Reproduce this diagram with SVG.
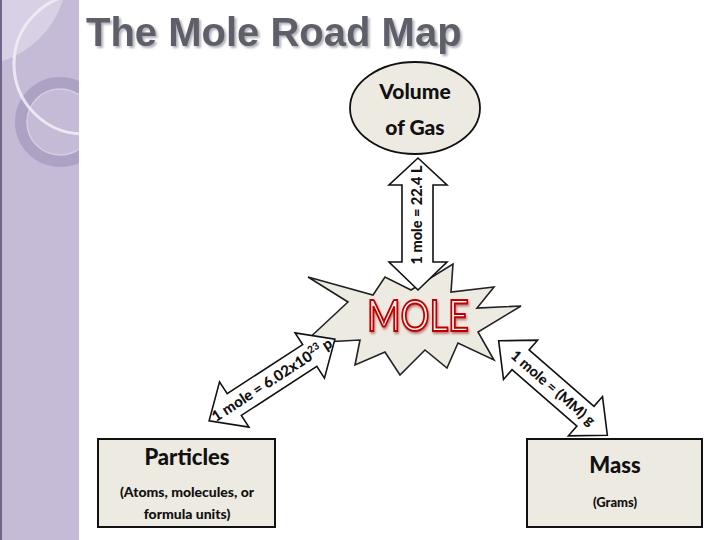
<svg xmlns="http://www.w3.org/2000/svg" width="720" height="540" viewBox="0 0 720 540">
<style>
.box{fill:#edeae1;stroke:#111;stroke-width:2}
.arr{fill:#ffffff;stroke:#111;stroke-width:1.6;stroke-linejoin:miter}
.lbl{font-family:Lato,"Open Sans","DejaVu Sans",sans-serif;font-weight:900;fill:#111;text-anchor:middle}
.title{font-family:"Liberation Sans",Arial,sans-serif;font-weight:bold;font-size:40px}
</style>
<defs>
<clipPath id="band"><rect x="0" y="0" width="79" height="540"/></clipPath>
<filter id="shadow" x="-5%" y="-20%" width="110%" height="150%">
<feDropShadow dx="2" dy="2" stdDeviation="0.8" flood-color="#9c9ca6" flood-opacity="0.8"/>
</filter>
<filter id="glow" x="-10%" y="-20%" width="120%" height="150%">
<feDropShadow dx="1" dy="2" stdDeviation="1.2" flood-color="#7a0000" flood-opacity="0.45"/>
</filter>
</defs>
<rect width="720" height="540" fill="#ffffff"/>
<g id="sidebar" clip-path="url(#band)">
<rect x="0" y="0" width="79" height="540" fill="#c5bbd7"/>
<path d="M0,0 H63 A95,95 0 0 1 0,62 Z" fill="#d8d1e5"/>
<circle cx="60" cy="122" r="39" fill="none" stroke="#ada2c4" stroke-width="12"/>
<circle cx="60" cy="122" r="33" fill="none" stroke="#d4cde2" stroke-width="1.5"/>
<circle cx="84" cy="64" r="70" fill="none" stroke="#f2eff7" stroke-width="3" opacity="0.85"/>
<rect x="0" y="0" width="2" height="540" fill="#6f6689"/>
</g>
<g id="title">
<text class="title" x="86" y="46" fill="#5f5f6b" filter="url(#shadow)">The Mole Road Map</text>
</g>
<g id="volume">
<ellipse cx="415" cy="108" rx="65" ry="46" fill="#edeae1" stroke="#111" stroke-width="1.8"/>
<text class="lbl" x="415" y="99" font-size="21">Volume</text>
<text class="lbl" x="415" y="135" font-size="21">of Gas</text>
</g>
<g id="mole">
<polygon points="308,277 373,295 385,277 411,290 453,264 451,292 494,287 477,308 521,306 478,332 494,360 458,343 447,368 425,350 400,375 385,352 355,365 360,340 304,343 348,302" fill="#edeae1" stroke="#222" stroke-width="1.6" stroke-linejoin="miter"/>
<text x="418" y="331" font-family="Lato,'Open Sans',sans-serif" font-size="42" text-anchor="middle" fill="#fff4f4" stroke="#c00000" stroke-width="2" textLength="102" lengthAdjust="spacingAndGlyphs" filter="url(#glow)">MOLE</text>
</g>
<g id="particles">
<rect class="box" x="98" y="439" width="177" height="88"/>
<text class="lbl" x="187" y="465" font-size="22">Particles</text>
<text class="lbl" x="187" y="497" font-size="14">(Atoms, molecules, or</text>
<text class="lbl" x="187" y="519" font-size="14">formula units)</text>
</g>
<g id="mass">
<rect class="box" x="527" y="439" width="175" height="88"/>
<text class="lbl" x="615" y="473" font-size="22">Mass</text>
<text class="lbl" x="615" y="507" font-size="13">(Grams)</text>
</g>
<g id="connectors">
<g id="arrow-volume">
<polygon class="arr" points="418,158 447,185 433,185 433,262 447,262 418,290 389,262 402,262 402,185 389,185"/>
<text class="lbl" font-size="14.5" transform="translate(417,215) rotate(-90)" x="0" y="5">1 mole = 22.4 L</text>
</g>
<g id="arrow-particles" transform="translate(272,380) rotate(-33)">
<polygon class="arr" points="-75,0 -45,-27 -45,-13 45,-13 45,-27 75,0 45,27 45,13 -45,13 -45,27"/>
<text class="lbl" font-size="15" x="0" y="5">1 mole = 6.02x10<tspan font-size="10" dy="-6">23</tspan><tspan dy="6"> p</tspan></text>
</g>
<g id="arrow-mass" transform="translate(553,388) rotate(41)">
<polygon class="arr" points="-72,0 -43,-26 -43,-13 43,-13 43,-26 72,0 43,26 43,13 -43,13 -43,26"/>
<text class="lbl" font-size="14.5" x="0" y="5">1 mole = (MM) g</text>
</g>
</g>
</svg>
